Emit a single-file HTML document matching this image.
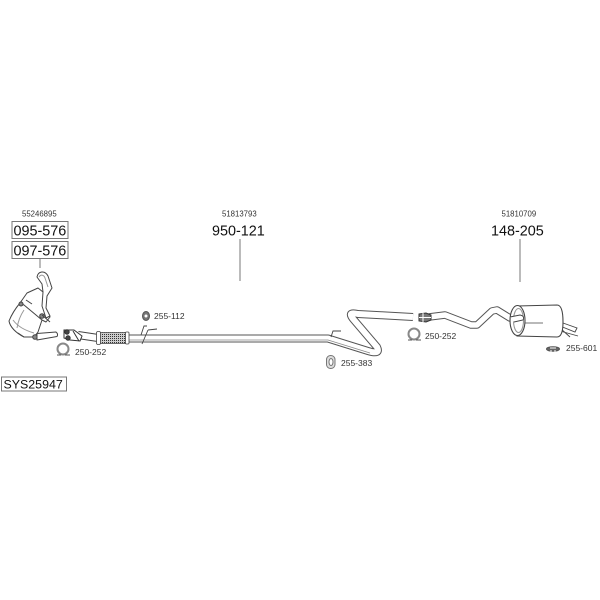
<!DOCTYPE html>
<html><head><meta charset="utf-8">
<style>
html,body{margin:0;padding:0;background:#fff}
svg{display:block;filter:blur(.35px)}
text{font-family:"Liberation Sans",sans-serif;fill:#222}
.s{font-size:8.5px;fill:#333}
.p{font-size:7.8px;fill:#333}
.b{font-size:14.4px;fill:#111}
</style></head><body>
<svg width="600" height="600" viewBox="0 0 600 600" xmlns="http://www.w3.org/2000/svg">
<rect width="600" height="600" fill="#fff"/>
<!-- label boxes -->
<rect x="12" y="221.5" width="56" height="17" fill="#fff" stroke="#777" stroke-width="1"/>
<rect x="12" y="241.5" width="56" height="17" fill="#fff" stroke="#777" stroke-width="1"/>
<rect x="1.5" y="377" width="65" height="14" fill="#fff" stroke="#777" stroke-width="1"/>
<text class="p" x="22" y="216.5">55246895</text>
<text class="b" x="13.5" y="235.5">095-576</text>
<text class="b" x="13.5" y="255.5">097-576</text>
<text x="3.500" y="388.5" font-size="12.4" style="fill:#111">SYS25947</text>
<text class="p" x="222" y="216.5">51813793</text>
<text class="b" x="212" y="235.5">950-121</text>
<text class="p" x="501.500" y="216.5">51810709</text>
<text class="b" x="491" y="235.5">148-205</text>
<!-- leader lines -->
<path d="M40 259V268M240 239V281M520 239V282" stroke="#777" stroke-width="1" fill="none"/>
<!-- catalyst -->
<g fill="#fff" stroke="#444" stroke-width="1" stroke-linejoin="round">
<path d="M27 293L38 288L43 292L45 308L50 317L46 322L42 320L22 333L10 320L20 303Z"/>
<path d="M37 277C38 271 45 270 48 276L52 288L47 296L46 308L50 316L46 318L42 306L43 292L42 284Z"/>
<path d="M39 277C41 274 44 275 45 278L48 287" fill="none" stroke="#999"/>
<path d="M20 303C15 309 11 316 9 321C10 327 16 333 24 337L34 337L38 332L42 320L24 305Z"/>
<path d="M13 320C18 327 27 331 34 333M24 310C20 316 18 322 17 328" fill="none" stroke="#999"/>
<circle cx="21" cy="304" r="2" fill="#888"/>
<circle cx="42" cy="316" r="2.300" fill="#888"/>
<circle cx="35" cy="337" r="2.300" fill="#888"/>
<path d="M42 315L50 322M18 333L24 337M26 300L32 304" fill="none"/>
<!-- short pipe -->
<path d="M37 333.500L56 332Q58.500 334 57 336.500L37 340Z"/>
</g>
<!-- front pipe start -->
<path d="M78 335L98 338" stroke="#444" stroke-width="8" fill="none"/>
<path d="M78 335L98 338" stroke="#fff" stroke-width="6" fill="none"/>
<!-- main pipe -->
<path d="M126 338.500H328L368 351Q381 355 377 347L354 320Q346 311 358 314L413 317" stroke="#555" stroke-width="8" fill="none" stroke-linejoin="round"/>
<path d="M126 338.500H328L368 351Q381 355 377 347L354 320Q346 311 358 314L413 317" stroke="#fff" stroke-width="6" fill="none" stroke-linejoin="round"/>
<path d="M126 340H328L370 353" stroke="#888" stroke-width=".8" fill="none"/>
<!-- flex section -->
<defs><pattern id="m" width="2" height="2" patternUnits="userSpaceOnUse"><rect width="2" height="2" fill="#ccc"/><rect width="1" height="1" fill="#333"/></pattern></defs>
<rect x="98" y="332.500" width="30" height="11" rx="2" fill="url(#m)" stroke="#444" stroke-width=".8"/>
<rect x="96.500" y="331.500" width="4" height="13" fill="#fff" stroke="#444" stroke-width=".8" rx="1.500"/>
<rect x="125.500" y="332" width="3.500" height="12" fill="#fff" stroke="#444" stroke-width=".8" rx="1"/>
<g fill="#fff" stroke="#333" stroke-width="1">
<path d="M64 330L74 330L82 336L80 341L70 340L64 338Z"/>
<circle cx="67" cy="332" r="2.200" fill="#444"/><circle cx="68" cy="338" r="2.200" fill="#444"/>
<path d="M73 331L79 341"/>
</g>
<!-- hangers -->
<path d="M141 335L144 326H147M148 330L157 329M142 344L148 330" stroke="#444" stroke-width=".9" fill="none"/>
<path d="M331 337L333 331H341" stroke="#444" stroke-width=".9" fill="none"/>
<!-- rear clamp and pipe -->
<path d="M429 317L445 315L471 325L477 325L492 311L497 310L510 318L524 316" stroke="#555" stroke-width="7.500" fill="none" stroke-linejoin="round"/>
<path d="M429 317L445 315L471 325L477 325L492 311L497 310L510 318L524 316" stroke="#fff" stroke-width="5.500" fill="none" stroke-linejoin="round"/>
<g fill="#fff" stroke="#333" stroke-width="1">
<path d="M419 314L426 313L431 315V320L426 322L419 321Z" fill="#777"/>
<path d="M423 313V322M419 317.500H431" stroke="#fff" fill="none"/>
</g>
<!-- muffler -->
<g stroke="#444" fill="#fff" stroke-width="1.100">
<path d="M563 323L577 328L575 332L560 326Z" stroke-width=".9"/>
<path d="M560 331L578 336M560 328L570 337" fill="none" stroke-width=".9"/>
<path d="M517 306L557 305Q563 305 563 322Q563 337 557 337L517 336Z"/>
<ellipse cx="517.500" cy="320.500" rx="7.500" ry="15"/>
<ellipse cx="518.500" cy="320.500" rx="5" ry="12" fill="#fff" stroke="#999"/>
<path d="M525 323H543" fill="none" stroke-width=".8"/>
<path d="M510 317L520 315Q525 316 523 320L514 322" stroke="#444" fill="#fff" stroke-width=".9"/>
</g>
<!-- small part icons -->
<g fill="#fff" stroke="#555" stroke-width="1">
<ellipse cx="146" cy="316" rx="3.500" ry="4.500" fill="#777"/>
<circle cx="146" cy="316" r="1.500" fill="#fff" stroke="none"/>
<circle cx="63" cy="349" r="5.500" fill="none" stroke="#888" stroke-width="2"/>
<path d="M57 355H61M65 355H70"/>
<circle cx="414" cy="334" r="5.500" fill="none" stroke="#888" stroke-width="2"/>
<path d="M408 340H412M416 340H421"/>
<rect x="326.500" y="355.500" width="8.500" height="13" rx="4" fill="#ddd" stroke="#777"/>
<ellipse cx="331" cy="362" rx="2" ry="3.500" fill="#fff" stroke="#777"/>
<ellipse cx="553" cy="349" rx="6.500" ry="2.300" fill="#666"/>
<path d="M550 348H556M551 350V352M555 350V352" stroke="#fff" fill="none"/>
</g>
<text class="s" x="154" y="319">255-112</text>
<text class="s" x="75" y="355">250-252</text>
<text class="s" x="425" y="339">250-252</text>
<text class="s" x="341" y="366">255-383</text>
<text class="s" x="566" y="351">255-601</text>
</svg>
</body></html>
